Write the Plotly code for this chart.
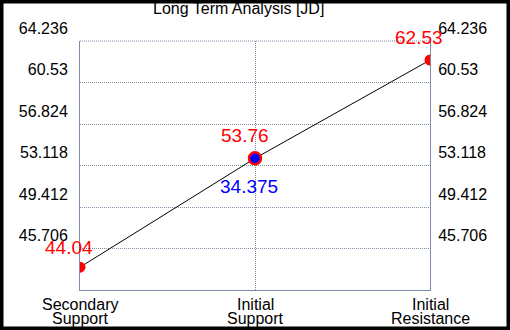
import plotly.graph_objects as go

title_text = "Long Term Analysis [JD]"
categories = ["Secondary Support", "Initial Support", "Initial Resistance"]
cat_line1 = ["Secondary", "Initial", "Initial"]
cat_line2 = ["Support", "Support", "Resistance"]
values = [44.04, 53.76, 62.53]
value_labels = ["44.04", "53.76", "62.53"]
extra_value = 34.375
extra_label = "34.375"
y_ticks = [45.706, 49.412, 53.118, 56.824, 60.53, 64.236]
y_min = 42.0
y_max = 64.236

FONT = "Liberation Sans, Arial, sans-serif"
AXIS_COLOR = "#7d8cab"
GRID_COLOR = "#7f8aa0"
DOT = "1px,1px"

fig = go.Figure()

fig.add_trace(go.Scatter(
    x=categories, y=values, mode="lines",
    line=dict(color="black", width=1), hoverinfo="skip", showlegend=False,
))
fig.add_trace(go.Scatter(
    x=[categories[0], categories[2]], y=[values[0], values[2]], mode="markers",
    marker=dict(color="red", size=11), hoverinfo="skip", showlegend=False,
))
fig.add_trace(go.Scatter(
    x=[categories[1]], y=[values[1]], mode="markers",
    marker=dict(color="blue", size=12, line=dict(color="red", width=2.5)),
    hoverinfo="skip", showlegend=False,
))
fig.add_trace(go.Scatter(
    x=[categories[1]], y=[values[1]], yaxis="y2", mode="markers",
    marker=dict(opacity=0), hoverinfo="skip", showlegend=False,
))

L, R, T, B = 80, 430, 41, 290
pw, ph = R - L, B - T

annotations = []
shifts = [(-11, 20), (-10, 23), (-11, 23)]
for c, v, t, (dx, dy) in zip(categories, values, value_labels, shifts):
    annotations.append(dict(
        x=c, y=v, text=t, showarrow=False, xshift=dx, yshift=dy,
        font=dict(family=FONT, size=19, color="red"),
    ))
annotations.append(dict(
    x=categories[1], y=values[1], text=extra_label, showarrow=False,
    xshift=-6, yshift=-28, font=dict(family=FONT, size=19, color="blue"),
))
for c, l1, l2 in zip(categories, cat_line1, cat_line2):
    annotations.append(dict(x=c, y=0, yref="paper", text=l1, showarrow=False,
                            yanchor="middle", yshift=-14,
                            font=dict(family=FONT, size=16, color="black")))
    annotations.append(dict(x=c, y=0, yref="paper", text=l2, showarrow=False,
                            yanchor="middle", yshift=-28,
                            font=dict(family=FONT, size=16, color="black")))
annotations.append(dict(x=(238 - L) / pw, y=(B - 9) / ph, xref="paper", yref="paper",
                        text=title_text, showarrow=False, xanchor="center",
                        yanchor="middle",
                        font=dict(family=FONT, size=16, color="black")))

yaxis_common = dict(
    range=[y_min, y_max], tickvals=y_ticks, ticktext=[str(t) for t in y_ticks],
    tickfont=dict(family=FONT, size=16, color="black"),
    ticklabelshift=-13, showline=True, linecolor=AXIS_COLOR, linewidth=1,
    zeroline=False, ticks="",
)

fig.update_layout(
    width=510, height=330,
    margin=dict(l=L, r=510 - R, t=T, b=330 - B, pad=0),
    paper_bgcolor="white", plot_bgcolor="white",
    showlegend=False,
    xaxis=dict(
        range=[0, 2], showticklabels=False, showline=True, linecolor=AXIS_COLOR,
        linewidth=1, showgrid=True, gridcolor=GRID_COLOR,
        griddash=DOT, gridwidth=1, zeroline=False, ticks="",
        type="category",
    ),
    yaxis=dict(**yaxis_common, side="left", showgrid=True, gridcolor=GRID_COLOR,
               griddash=DOT, gridwidth=1, ticklabelstandoff=8),
    yaxis2=dict(**yaxis_common, side="right", overlaying="y", showgrid=False,
                ticklabelstandoff=4),
    annotations=annotations,
    shapes=[
        dict(type="line", xref="paper", yref="paper", x0=0, x1=1, y0=1, y1=1,
             line=dict(color=GRID_COLOR, width=1, dash=DOT), layer="below"),
        dict(type="rect", xref="paper", yref="paper",
             x0=-L / pw, x1=(510 - L) / pw, y0=-(330 - B) / ph, y1=B / ph,
             line=dict(color="black", width=7), fillcolor="rgba(0,0,0,0)",
             layer="above"),
    ],
)

fig.write_html("out.html", config={"displayModeBar": False},
               post_script="document.body.style.margin='0';document.body.style.padding='0';")
